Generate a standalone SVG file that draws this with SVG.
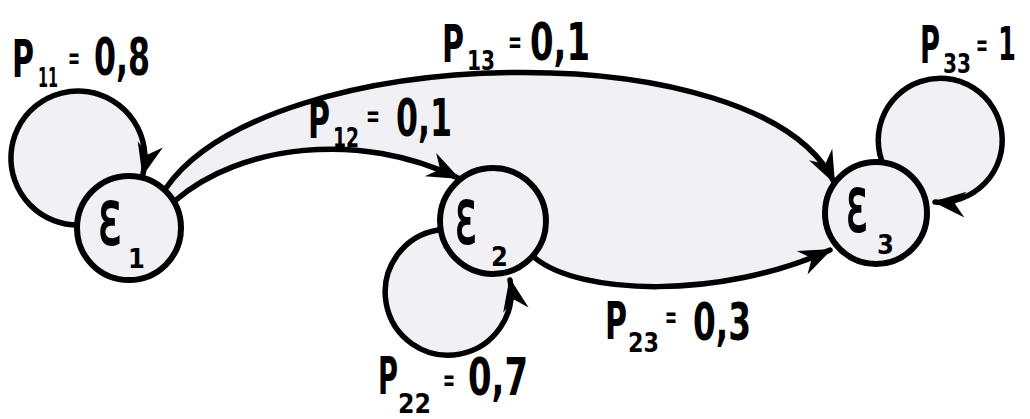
<svg xmlns="http://www.w3.org/2000/svg" width="1030" height="419" viewBox="0 0 1030 419">
  <style>
    .edge { fill: none; stroke: #000; stroke-width: 5.5; stroke-linecap: round; }
    .node { fill: #f1f1f5; stroke: #000; stroke-width: 6; }
    .t { font-family: "DejaVu Sans Condensed", "DejaVu Sans", sans-serif; font-weight: bold; fill: #000; }
    .big { font-size: 52px; }
    .sm { font-size: 26px; }
    .eq { font-size: 30px; }
    .eps { font-family: "DejaVu Sans", sans-serif; font-size: 76px; font-weight: normal; fill: #000; stroke: #000; stroke-width: 2; }
    .nsub { font-family: "DejaVu Sans Condensed", "DejaVu Sans", sans-serif; font-weight: bold; font-size: 27px; stroke: none; }
  </style>
  <defs>
    <marker id="arr" markerUnits="userSpaceOnUse" markerWidth="40" markerHeight="40" viewBox="-30 -15 34 30" refX="0" refY="0" orient="auto">
      <path d="M2,0 L-26,-11 L-17,0 L-26,11 Z" fill="#000"/>
    </marker>
  </defs>
  <rect width="1030" height="419" fill="#ffffff"/>
  <!-- shaded interior region -->
  <path d="M166 188 C270 40, 760 30, 836 182 L828 250 C720 300, 580 295, 535 258 L520 180 L458 178 C360 130, 240 145, 176 200 Z" fill="#f1f1f5"/>
  <circle cx="78" cy="158" r="67" fill="#f1f1f5"/>
  <circle cx="447" cy="293" r="63" fill="#f1f1f5"/>
  <circle cx="940" cy="140" r="62" fill="#f1f1f5"/>

  <g id="connectors">
    <path class="edge" d="M80 225 A67 67 0 1 1 143 174" marker-end="url(#arr)"/>
    <path class="edge" d="M438 230 A63 63 0 1 0 510 280" marker-end="url(#arr)"/>
    <path class="edge" d="M887 172 A62 62 0 1 1 935 202" marker-end="url(#arr)"/>
    <path class="edge" d="M166 188 C270 40, 760 30, 834 182" marker-end="url(#arr)"/>
    <path class="edge" d="M176 200 C240 145, 360 130, 458 178" marker-end="url(#arr)"/>
    <path class="edge" d="M535 258 C580 295, 720 300, 830 250" marker-end="url(#arr)"/>
  </g>

  <g id="node-e1">
    <circle class="node" cx="129" cy="228" r="52"/>
    <text class="eps" x="98" y="244"><tspan textLength="24" lengthAdjust="spacingAndGlyphs">ε</tspan><tspan class="nsub" x="128" y="268">1</tspan></text>
  </g>
  <g id="node-e2">
    <circle class="node" cx="493" cy="221" r="53"/>
    <text class="eps" x="455" y="243"><tspan textLength="22" lengthAdjust="spacingAndGlyphs">ε</tspan><tspan class="nsub" x="491" y="266">2</tspan></text>
  </g>
  <g id="node-e3">
    <circle class="node" cx="876" cy="213" r="51"/>
    <text class="eps" x="846" y="231"><tspan textLength="22" lengthAdjust="spacingAndGlyphs">ε</tspan><tspan class="nsub" x="877" y="254">3</tspan></text>
  </g>

  <g id="labels">
    <text class="t big" x="12" y="77" textLength="22" lengthAdjust="spacingAndGlyphs">P</text>
    <text class="t sm" x="38" y="87" textLength="20" lengthAdjust="spacingAndGlyphs">11</text>
    <text class="t eq" x="68" y="68" textLength="12" lengthAdjust="spacingAndGlyphs">=</text>
    <text class="t big" x="94" y="75" textLength="56" lengthAdjust="spacingAndGlyphs">0,8</text>

    <text class="t big" x="442" y="62" textLength="22" lengthAdjust="spacingAndGlyphs">P</text>
    <text class="t sm" x="467" y="70" textLength="28" lengthAdjust="spacingAndGlyphs">13</text>
    <text class="t eq" x="508" y="52" textLength="14" lengthAdjust="spacingAndGlyphs">=</text>
    <text class="t big" x="530" y="60" textLength="60" lengthAdjust="spacingAndGlyphs">0,1</text>

    <text class="t big" x="308" y="138" textLength="22" lengthAdjust="spacingAndGlyphs">P</text>
    <text class="t sm" x="333" y="147" textLength="26" lengthAdjust="spacingAndGlyphs">12</text>
    <text class="t eq" x="366" y="126" textLength="14" lengthAdjust="spacingAndGlyphs">=</text>
    <text class="t big" x="396" y="136" textLength="56" lengthAdjust="spacingAndGlyphs">0,1</text>

    <text class="t big" x="920" y="63" textLength="20" lengthAdjust="spacingAndGlyphs">P</text>
    <text class="t sm" x="943" y="73" textLength="28" lengthAdjust="spacingAndGlyphs">33</text>
    <text class="t eq" x="976" y="55" textLength="12" lengthAdjust="spacingAndGlyphs">=</text>
    <text class="t" x="998" y="60" font-size="46" textLength="18" lengthAdjust="spacingAndGlyphs">1</text>

    <text class="t big" x="605" y="339" textLength="22" lengthAdjust="spacingAndGlyphs">P</text>
    <text class="t sm" x="628" y="352" textLength="31" lengthAdjust="spacingAndGlyphs">23</text>
    <text class="t eq" x="665" y="327" textLength="12" lengthAdjust="spacingAndGlyphs">=</text>
    <text class="t big" x="693" y="340" textLength="58" lengthAdjust="spacingAndGlyphs">0,3</text>

    <text class="t big" x="378" y="394" textLength="20" lengthAdjust="spacingAndGlyphs">P</text>
    <text class="t sm" x="398" y="413" textLength="33" lengthAdjust="spacingAndGlyphs">22</text>
    <text class="t eq" x="443" y="390" textLength="12" lengthAdjust="spacingAndGlyphs">=</text>
    <text class="t big" x="468" y="395" textLength="60" lengthAdjust="spacingAndGlyphs">0,7</text>
  </g>
</svg>
